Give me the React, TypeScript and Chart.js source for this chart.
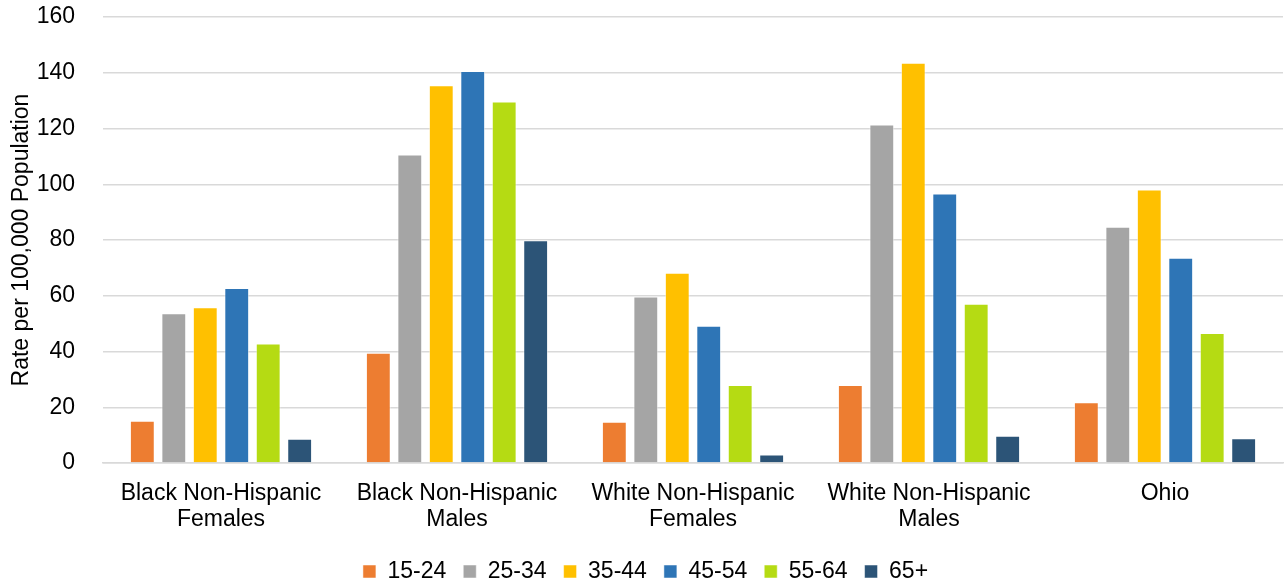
import React, { useEffect, useRef } from "react";
import { Chart, registerables } from "chart.js";

Chart.register(...registerables);

const categories: string[][] = [
  ["Black Non-Hispanic", "Females"],
  ["Black Non-Hispanic", "Males"],
  ["White Non-Hispanic", "Females"],
  ["White Non-Hispanic", "Males"],
  ["Ohio"],
];

const seriesLabels = ["15-24", "25-34", "35-44", "45-54", "55-64", "65+"];
const seriesColors = ["#ED7D31", "#A5A5A5", "#FFC000", "#2E75B6", "#B5DB13", "#2C5477"];

const age15_24 = [15.2, 39.6, 14.8, 28.0, 21.8];
const age25_34 = [53.7, 110.7, 59.7, 121.4, 84.8];
const age35_44 = [55.9, 135.5, 68.3, 143.6, 98.1];
const age45_54 = [62.8, 140.6, 49.2, 96.7, 73.6];
const age55_64 = [42.9, 129.7, 28.0, 57.1, 46.6];
const age65plus = [8.7, 79.9, 3.1, 9.8, 8.9];

const seriesValues = [age15_24, age25_34, age35_44, age45_54, age55_64, age65plus];

const yTicks = [0, 20, 40, 60, 80, 100, 120, 140, 160];

export default function App() {
  const ref = useRef<HTMLCanvasElement | null>(null);
  useEffect(() => {
    document.body.style.margin = "0";
    const ctx = ref.current!;
    const font = "'Liberation Sans', Arial, sans-serif";
    const chart = new Chart(ctx, {
      type: "bar",
      data: {
        labels: categories,
        datasets: seriesLabels.map((l, i) => ({
          label: l,
          data: seriesValues[i],
          backgroundColor: seriesColors[i],
          borderColor: "rgba(255,255,255,0.5)",
          borderWidth: 1,
          categoryPercentage: 0.8,
          barPercentage: 0.79,
        })),
      },
      options: {
        animation: false,
        responsive: false,
        maintainAspectRatio: false,
        layout: { padding: { top: 0, right: 2, left: 8, bottom: -10 } },
        plugins: {
          legend: {
            position: "bottom",
            labels: {
              boxWidth: 13,
              boxHeight: 13,
              padding: 17,
              color: "#000",
              font: { family: font, size: 23 },
            },
          },
          tooltip: { enabled: false },
        },
        scales: {
          x: {
            grid: { display: false, drawTicks: false },
            border: { color: "#D9D9D9", width: 1.5 },
            afterFit: (scale: any) => {
              scale.height -= 8;
              scale.paddingLeft = 0;
              scale.paddingRight = 0;
            },
            ticks: {
              color: "#000",
              padding: 18,
              font: { family: font, size: 23, lineHeight: 1.13 },
              maxRotation: 0,
              autoSkip: false,
            },
          },
          y: {
            min: 0,
            max: 160,
            afterBuildTicks: (axis: any) => {
              axis.ticks = yTicks.map((v) => ({ value: v }));
            },
            afterFit: (scale: any) => {
              scale.width = 95;
              scale.paddingTop = 17;
              scale.paddingBottom = 10;
            },
            grid: { color: "#D9D9D9", lineWidth: 1.5, drawTicks: false },
            border: { display: false },
            ticks: {
              color: "#000",
              padding: 28,
              font: { family: font, size: 23 },
            },
            title: {
              display: true,
              text: "Rate per 100,000 Population",
              color: "#000",
              font: { family: font, size: 23 },
              padding: { top: 0, bottom: 1 },
            },
          },
        },
      },
    });
    return () => chart.destroy();
  }, []);
  return (
    <div style={{ position: "absolute", left: 0, top: 0, width: 1285, height: 583 }}>
      <canvas ref={ref} width={1285} height={583} />
    </div>
  );
}
